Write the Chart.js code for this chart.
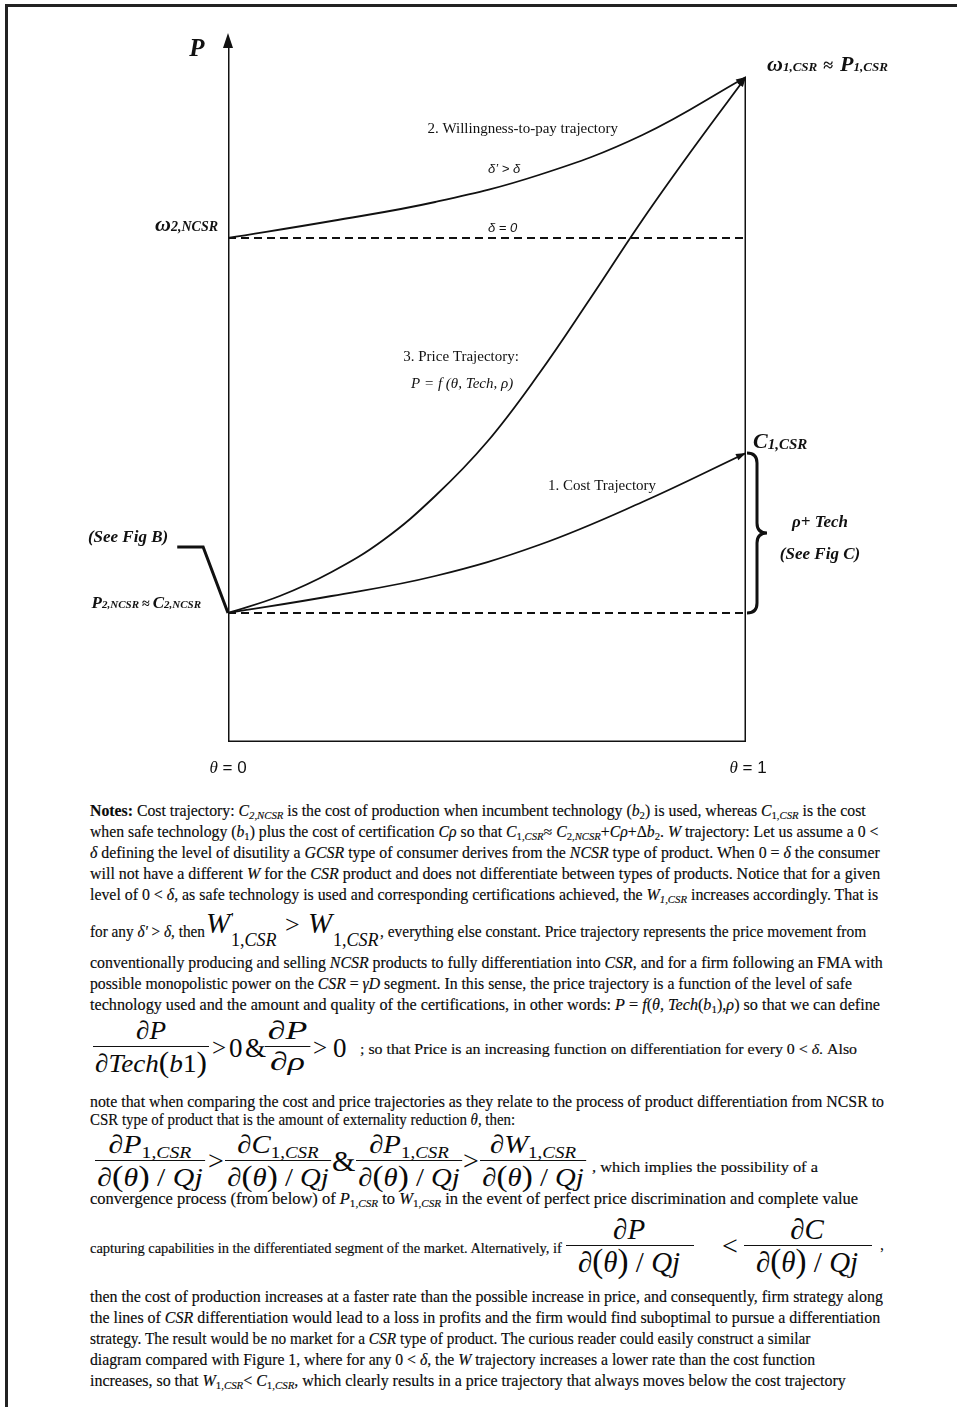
<!DOCTYPE html>
<html>
<head>
<meta charset="utf-8">
<script src="https://cdn.jsdelivr.net/npm/chart.js@4.4.1/dist/chart.umd.min.js"></script>
<style>
body { margin: 0; width: 957px; height: 1407px; position: relative; background: #fff; overflow: hidden; color: #0a0a0a; }
#frame { position: absolute; left: 5px; top: 4px; width: 970px; height: 1410px; border-top: 3px solid #222; border-left: 3px solid #222; }
#wrap { position: absolute; left: 0; top: 0; width: 957px; height: 790px; }
.ln { position: absolute; left: 90px; white-space: nowrap; transform-origin: 0 50%; font-family: "Liberation Serif", serif; font-size: 16px; line-height: 20px; -webkit-text-stroke: 0.15px #0a0a0a; }
.ln sub { font-size: 0.68em; vertical-align: -0.3em; line-height: 0; }
.fx { position: absolute; white-space: nowrap; font-family: "Liberation Serif", serif; font-size: 28px; line-height: 30px; }
.frac { position: absolute; text-align: center; font-family: "Liberation Serif", serif; font-style: italic; font-size: 26px; line-height: 26px; white-space: nowrap; transform-origin: 0 0; }
.frac .bar { display: block; height: 1.3px; background: #111; margin: 2px 0 2px 0; }
.frac .n, .frac .d { display: block; padding: 0 2px; }
.frac sub { font-size: 0.66em; vertical-align: -0.3em; line-height: 0; font-style: normal; }
.frac sub i { font-style: italic; }
.frac .up { font-style: normal; }
.frac .pr { font-style: normal; font-size: 30px; }
.frac.big { font-size: 29px; line-height: 27px; }
.frac.big .n, .frac.big .d { padding: 0 14px 0 12px; }
.frac.big .pr { font-size: 33px; }
</style>
</head>
<body>
<div id="frame"></div>
<div id="wrap"><canvas id="chartDiagram"></canvas></div>

<div class="ln" style="top:801px" data-w="776"><b>Notes:</b> Cost trajectory: <i>C</i><sub><i>2,NCSR</i></sub> is the cost of production when incumbent technology (<i>b</i><sub>2</sub>) is used, whereas <i>C</i><sub>1,<i>CSR</i></sub> is the cost</div>
<div class="ln" style="top:822px" data-w="788">when safe technology (<i>b</i><sub>1</sub>) plus the cost of certification <i>Cρ</i> so that <i>C</i><sub>1,<i>CSR</i></sub>≈ <i>C</i><sub>2,<i>NCSR</i></sub>+<i>Cρ</i>+Δ<i>b</i><sub>2</sub>. <i>W</i> trajectory: Let us assume a 0 &lt;</div>
<div class="ln" style="top:843px" data-w="790"><i>δ</i> defining the level of disutility a <i>GCSR</i> type of consumer derives from the <i>NCSR</i> type of product. When 0 = <i>δ</i> the consumer</div>
<div class="ln" style="top:864px" data-w="790">will not have a different <i>W</i> for the <i>CSR</i> product and does not differentiate between types of products. Notice that for a given</div>
<div class="ln" style="top:885px" data-w="788">level of 0 &lt; <i>δ</i>, as safe technology is used and corresponding certifications achieved, the <i>W</i><sub><i>1,CSR</i></sub> increases accordingly. That is</div>

<div class="ln" style="top:922px" data-w="115">for any <i>δ'</i> &gt; <i>δ</i>, then</div>
<div class="fx" style="left:206px;top:908px;font-size:29px;font-style:italic">W</div>
<div class="fx" style="left:231px;top:903px;font-size:15px">'</div>
<div class="fx" style="left:231px;top:925px;font-size:18px">1,<i>CSR</i></div>
<div class="fx" style="left:285px;top:910px;font-size:26px">&gt;</div>
<div class="fx" style="left:308px;top:908px;font-size:29px;font-style:italic">W</div>
<div class="fx" style="left:333px;top:925px;font-size:18px">1,<i>CSR</i></div>
<div class="ln" style="top:922px;left:380px" data-w="486">, everything else constant. Price trajectory represents the price movement from</div>

<div class="ln" style="top:953px" data-w="793">conventionally producing and selling <i>NCSR</i> products to fully differentiation into <i>CSR</i>, and for a firm following an FMA with</div>
<div class="ln" style="top:974px" data-w="762">possible monopolistic power on the <i>CSR</i> = <i>γD</i> segment. In this sense, the price trajectory is a function of the level of safe</div>
<div class="ln" style="top:995px" data-w="790">technology used and the amount and quality of the certifications, in other words: <i>P</i> = <i>f</i>(<i>θ</i>, <i>Tech</i>(<i>b</i><sub>1</sub>),<i>ρ</i>) so that we can define</div>

<div class="frac" style="left:93px;top:1018px" data-w="116"><span class="n">∂P</span><span class="bar"></span><span class="d">∂Tech<span class="pr">(</span>b<span class="up">1</span><span class="pr">)</span></span></div>
<div class="fx" style="left:212px;top:1033px;font-size:25px">&gt;</div>
<div class="fx" style="left:229px;top:1033px;font-size:27px">0</div>
<div class="fx" style="left:245px;top:1033px;font-size:27px">&amp;</div>
<div class="frac" style="left:265px;top:1018px" data-w="45"><span class="n">∂P</span><span class="bar"></span><span class="d">∂ρ</span></div>
<div class="fx" style="left:313px;top:1033px;font-size:25px">&gt;</div>
<div class="fx" style="left:333px;top:1033px;font-size:27px">0</div>
<div class="ln" style="top:1040px;left:360px;font-size:14px" data-w="497">; so that Price is an increasing function on differentiation for every 0 &lt; <i>δ</i>. Also</div>

<div class="ln" style="top:1092px" data-w="794">note that when comparing the cost and price trajectories as they relate to the process of product differentiation from NCSR to</div>
<div class="ln" style="top:1110px" data-w="425">CSR type of product that is the amount of externality reduction <i>θ</i>, then:</div>

<div class="frac" style="left:95px;top:1132px" data-w="110"><span class="n">∂P<sub>1,<i>CSR</i></sub></span><span class="bar"></span><span class="d">∂<span class="pr">(</span>θ<span class="pr">)</span><span class="up"> / </span>Qj</span></div>
<div class="fx" style="left:208px;top:1146px">&gt;</div>
<div class="frac" style="left:225px;top:1132px" data-w="106"><span class="n">∂C<sub>1,<i>CSR</i></sub></span><span class="bar"></span><span class="d">∂<span class="pr">(</span>θ<span class="pr">)</span><span class="up"> / </span>Qj</span></div>
<div class="fx" style="left:332px;top:1146px;font-size:30px">&amp;</div>
<div class="frac" style="left:356px;top:1132px" data-w="106"><span class="n">∂P<sub>1,<i>CSR</i></sub></span><span class="bar"></span><span class="d">∂<span class="pr">(</span>θ<span class="pr">)</span><span class="up"> / </span>Qj</span></div>
<div class="fx" style="left:463px;top:1146px">&gt;</div>
<div class="frac" style="left:480px;top:1132px" data-w="106"><span class="n">∂W<sub>1,<i>CSR</i></sub></span><span class="bar"></span><span class="d">∂<span class="pr">(</span>θ<span class="pr">)</span><span class="up"> / </span>Qj</span></div>
<div class="ln" style="top:1158px;left:592px;font-size:14px" data-w="226">, which implies the possibility of a</div>

<div class="ln" style="top:1189px" data-w="768">convergence process (from below) of <i>P</i><sub>1,<i>CSR</i></sub> to <i>W</i><sub>1,<i>CSR</i></sub> in the event of perfect price discrimination and complete value</div>

<div class="ln" style="top:1238px;font-size:15px" data-w="472">capturing capabilities in the differentiated segment of the market. Alternatively, if</div>
<div class="frac big" style="left:566px;top:1216px"><span class="n">∂P</span><span class="bar"></span><span class="d">∂<span class="pr">(</span>θ<span class="pr">)</span><span class="up"> / </span>Qj</span></div>
<div class="fx" style="left:722px;top:1231px">&lt;</div>
<div class="frac big" style="left:744px;top:1216px"><span class="n">∂C</span><span class="bar"></span><span class="d">∂<span class="pr">(</span>θ<span class="pr">)</span><span class="up"> / </span>Qj</span></div>
<div class="fx" style="left:880px;top:1230px;font-size:16px">,</div>

<div class="ln" style="top:1287px" data-w="793">then the cost of production increases at a faster rate than the possible increase in price, and consequently, firm strategy along</div>
<div class="ln" style="top:1308px" data-w="790">the lines of <i>CSR</i> differentiation would lead to a loss in profits and the firm would find suboptimal to pursue a differentiation</div>
<div class="ln" style="top:1329px" data-w="720">strategy. The result would be no market for a <i>CSR</i> type of product. The curious reader could easily construct a similar</div>
<div class="ln" style="top:1350px" data-w="725">diagram compared with Figure 1, where for any 0 &lt; <i>δ</i>, the <i>W</i> trajectory increases a lower rate than the cost function</div>
<div class="ln" style="top:1371px" data-w="756">increases, so that <i>W</i><sub>1,<i>CSR</i></sub>&lt; <i>C</i><sub>1,<i>CSR</i></sub>, which clearly results in a price trajectory that always moves below the cost trajectory</div>

<script>
// theta (degree of differentiation) goes 0 -> 1, values are price levels
var wtpTheta = [0, 0.2, 0.4, 0.6, 0.8, 1];
var wtpValues = [5.04, 5.21, 5.40, 5.67, 6.07, 6.65];

var priceTheta = [0, 0.1, 0.2, 0.3, 0.4, 0.5, 0.6, 0.7, 0.8, 0.9, 1];
var priceValues = [1.29, 1.46, 1.70, 2.02, 2.46, 3.00, 3.68, 4.44, 5.22, 5.95, 6.65];

var costTheta = [0, 0.2, 0.4, 0.6, 0.8, 1];
var costValues = [1.29, 1.46, 1.66, 1.97, 2.40, 2.89];

var thetaTicks = ['θ = 0', 'θ = 1'];
var p2ncsr = 1.29;   // P2,NCSR ~ C2,NCSR
var w2ncsr = 5.04;   // omega 2,NCSR
var p1csr = 6.65;    // omega 1,CSR ~ P1,CSR
var c1csr = 2.89;    // C1,CSR
var yTop = 7.09;

// pointer from "(See Fig B)" down to the P2,NCSR point
var leaderX = [-0.098, -0.048, 0];
var leaderY = [1.95, 1.95, p2ncsr];

function pts(xs, ys) {
    return xs.map(function (x, i) { return { x: x, y: ys[i] }; });
}

var serif = '"Liberation Serif", serif';
var sans = '"Liberation Sans", sans-serif';

function drawRich(ctx, parts, x, y, align) {
    var total = 0;
    parts.forEach(function (p) { ctx.font = p[1]; total += ctx.measureText(p[0]).width + (p[3] || 0); });
    var cx = align === 'right' ? x - total : (align === 'center' ? x - total / 2 : x);
    parts.forEach(function (p) {
        ctx.font = p[1];
        ctx.fillText(p[0], cx, y + (p[2] || 0));
        cx += ctx.measureText(p[0]).width + (p[3] || 0);
    });
}

function arrowHead(ctx, x0, y0, x1, y1, len, half) {
    var a = Math.atan2(y1 - y0, x1 - x0);
    ctx.beginPath();
    ctx.moveTo(x1, y1);
    ctx.lineTo(x1 - len * Math.cos(a) + half * Math.sin(a), y1 - len * Math.sin(a) - half * Math.cos(a));
    ctx.lineTo(x1 - len * Math.cos(a) - half * Math.sin(a), y1 - len * Math.sin(a) + half * Math.cos(a));
    ctx.closePath();
    ctx.fill();
}

var decor = {
    id: 'decor',
    afterDatasetsDraw: function (chart) {
        var ctx = chart.ctx;
        var X = function (v) { return chart.scales.x.getPixelForValue(v); };
        var Y = function (v) { return chart.scales.y.getPixelForValue(v); };
        ctx.save();
        ctx.fillStyle = '#111';
        ctx.strokeStyle = '#111';

        // leader line, outside the plot area
        ctx.lineWidth = 3;
        ctx.lineJoin = 'miter';
        ctx.beginPath();
        leaderX.forEach(function (v, i) {
            if (i === 0) ctx.moveTo(X(v), Y(leaderY[i])); else ctx.lineTo(X(v), Y(leaderY[i]));
        });
        ctx.stroke();

        // arrow heads
        arrowHead(ctx, X(0), Y(6.5), X(0), Y(yTop), 15, 5);
        arrowHead(ctx, X(0.97), Y(6.55), X(1), Y(p1csr), 10, 3.5);
        arrowHead(ctx, X(0.97), Y(6.44), X(1), Y(p1csr), 10, 3.5);
        arrowHead(ctx, X(0.97), Y(2.82), X(1), Y(c1csr), 10, 3.5);

        // curly brace between C2,NCSR and C1,CSR
        var bx = X(1) + 1, b1 = Y(c1csr), b2 = Y(p2ncsr), bm = (b1 + b2) / 2, r = 10;
        ctx.lineWidth = 3;
        ctx.beginPath();
        ctx.moveTo(bx, b1);
        ctx.quadraticCurveTo(bx + r, b1, bx + r, b1 + r);
        ctx.lineTo(bx + r, bm - r);
        ctx.quadraticCurveTo(bx + r, bm, bx + 2 * r, bm);
        ctx.quadraticCurveTo(bx + r, bm, bx + r, bm + r);
        ctx.lineTo(bx + r, b2 - r);
        ctx.quadraticCurveTo(bx + r, b2, bx, b2);
        ctx.stroke();

        ctx.textBaseline = 'alphabetic';
        ctx.textAlign = 'left';
        var bi = 'italic bold ';

        drawRich(ctx, [['P', bi + '25px ' + serif]], X(-0.06), Y(6.86), 'center');
        drawRich(ctx, [['ω', bi + '22px ' + serif], ['2,NCSR', bi + '14px ' + serif]], X(0) - 10, Y(w2ncsr) - 7, 'right');
        drawRich(ctx, [['ω', bi + '22px ' + serif], ['1,CSR', bi + '13px ' + serif, 0, 6], ['≈', 'bold 18px ' + serif, 0, 7],
            ['P', bi + '22px ' + serif], ['1,CSR', bi + '13px ' + serif]], X(1) + 21, Y(p1csr) - 6, 'left');
        drawRich(ctx, [['C', bi + '22px ' + serif], ['1,CSR', bi + '15px ' + serif, 1]], X(1) + 7, Y(c1csr) - 5, 'left');
        drawRich(ctx, [['ρ+ Tech', bi + '17px ' + serif]], X(1) + 74, Y(2.15), 'center');
        drawRich(ctx, [['(See Fig C)', bi + '17px ' + serif]], X(1) + 74, Y(1.83), 'center');
        drawRich(ctx, [['(See Fig B)', bi + '17px ' + serif]], X(-0.193), Y(2.0), 'center');
        drawRich(ctx, [['P', bi + '17px ' + serif], ['2,NCSR', bi + '11px ' + serif, 0, 3], ['≈', 'bold 14px ' + serif, 0, 3],
            ['C', bi + '17px ' + serif], ['2,NCSR', bi + '11px ' + serif]], X(0) - 27, Y(p2ncsr) - 5, 'right');

        drawRich(ctx, [['2. Willingness-to-pay trajectory', '15px ' + serif]], X(0.569), Y(6.09), 'center');
        drawRich(ctx, [['δ’ > δ', 'italic 13px ' + sans]], X(0.502), Y(5.69), 'left');
        drawRich(ctx, [['δ = 0', 'italic 13px ' + sans]], X(0.502), Y(5.10), 'left');
        drawRich(ctx, [['3. Price Trajectory:', '15px ' + serif]], X(0.45), Y(3.81), 'center');
        drawRich(ctx, [['P = f (θ, Tech, ρ)', 'italic 15px ' + serif]], X(0.452), Y(3.54), 'center');
        drawRich(ctx, [['1. Cost Trajectory', '15px ' + serif]], X(0.722), Y(2.52), 'center');

        drawRich(ctx, [['θ', 'italic 17px ' + serif], [thetaTicks[0].slice(1), '17px ' + sans]], X(0), Y(-0.31), 'center');
        drawRich(ctx, [['θ', 'italic 17px ' + serif], [thetaTicks[1].slice(1), '17px ' + sans]], X(1.004), Y(-0.31), 'center');
        ctx.restore();
    }
};

var black = '#111';

new Chart(document.getElementById('chartDiagram'), {
    type: 'scatter',
    data: {
        datasets: [
            { data: [{ x: 0, y: 0 }, { x: 0, y: yTop - 0.1 }], showLine: true, borderColor: black, borderWidth: 3 },
            { data: [{ x: 0, y: 0 }, { x: 1, y: 0 }], showLine: true, borderColor: black, borderWidth: 3, borderCapStyle: 'square' },
            { data: [{ x: 1, y: 0 }, { x: 1, y: p1csr }], showLine: true, borderColor: black, borderWidth: 3 },
            { data: [{ x: 0, y: w2ncsr }, { x: 1, y: w2ncsr }], showLine: true, borderColor: black, borderWidth: 2, borderDash: [8, 5] },
            { data: [{ x: 0, y: p2ncsr }, { x: 1, y: p2ncsr }], showLine: true, borderColor: black, borderWidth: 2, borderDash: [8, 5] },
            { data: pts(wtpTheta, wtpValues), showLine: true, borderColor: black, borderWidth: 1.8, tension: 0.4 },
            { data: pts(priceTheta, priceValues), showLine: true, borderColor: black, borderWidth: 1.8, tension: 0.4 },
            { data: pts(costTheta, costValues), showLine: true, borderColor: black, borderWidth: 1.8, tension: 0.4 }
        ]
    },
    options: {
        responsive: true,
        maintainAspectRatio: false,
        animation: false,
        layout: { padding: { left: 228, right: 211, top: 33, bottom: 48 } },
        elements: { point: { radius: 0, hoverRadius: 0 } },
        scales: {
            x: { type: 'linear', min: 0, max: 1, display: false },
            y: { type: 'linear', min: 0, max: yTop, display: false }
        },
        plugins: { legend: { display: false }, tooltip: { enabled: false } }
    },
    plugins: [decor]
});

// squeeze each note line / fraction to the width it has in the figure
document.querySelectorAll('[data-w]').forEach(function (el) {
    var w = el.getBoundingClientRect().width;
    el.style.transform = 'scaleX(' + (parseFloat(el.dataset.w) / w).toFixed(3) + ')';
});
</script>
</body>
</html>
